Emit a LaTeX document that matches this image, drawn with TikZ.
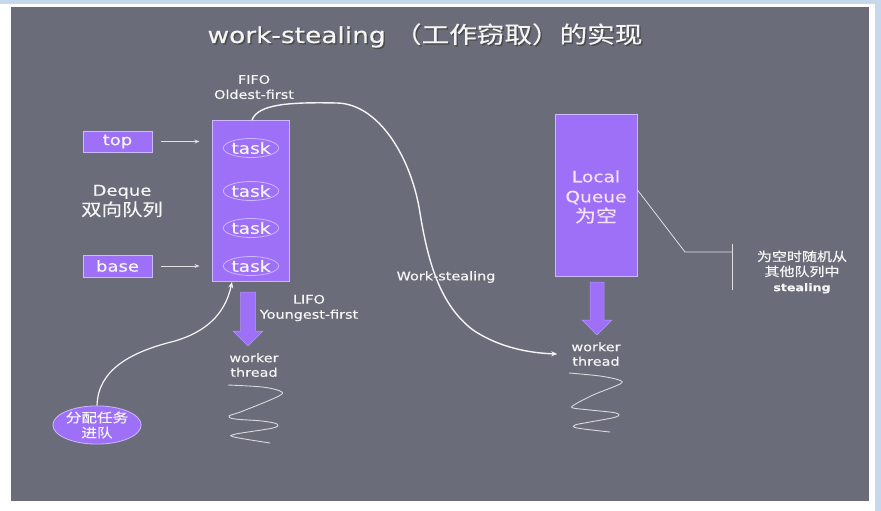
\documentclass[tikz,border=0pt]{standalone}
\usepackage{fontspec}
\setmainfont{DejaVu Sans}[FakeStretch=1.2,FakeBold=0.3]
\newfontfamily\cjk{Noto Sans CJK SC}[FakeStretch=1.2,FakeBold=0.3]
\usetikzlibrary{arrows.meta,calc,shapes.geometric}
\definecolor{slide}{RGB}{106,108,122}
\definecolor{purp}{RGB}{158,112,248}
\definecolor{lav}{RGB}{205,185,255}
\definecolor{txt}{RGB}{245,245,245}
\definecolor{pinkt}{RGB}{246,226,255}
\definecolor{band}{RGB}{200,216,236}
\begin{document}
\begin{tikzpicture}[x=1pt,y=-1pt,
  purpbox/.style={draw=lav, line width=1pt, fill=purp, text=txt, inner sep=0pt},
  taskell/.style={ellipse, draw=lav, line width=0.8pt, minimum width=48pt, minimum height=19pt, inner sep=0pt, text=txt, font=\fontsize{15.5}{15}\selectfont},
  lbl/.style={text=txt, align=center, inner sep=0pt},
  ptr/.style={draw=txt!85!slide, line width=0.8pt, -{Stealth[length=5pt,width=4pt]}},
  curvearrow/.style={draw=txt, line width=1.4pt, -{Stealth[length=6pt,width=5pt]}},
  spring/.style={draw=txt!80!slide, line width=0.9pt},
  bigarrow/.style={fill=purp, draw=lav!50!purp, line width=0.5pt},
  callout/.style={draw=txt!85!slide, line width=0.8pt}
]
\useasboundingbox (0,0) rectangle (881,511);
\fill[white] (0,0) rectangle (881,511);
\fill[band] (0,0) rectangle (881,4);
\fill[band] (875,0) rectangle (881,511);
\fill[slide] (11,7) rectangle (869,501);

% title
\node[anchor=base, text=black!70, inner sep=0pt] (titleshadow) at (426.5,44.5)
  {\fontsize{22}{24}\selectfont work-stealing\ {\cjk\fontsize{23}{24}\selectfont （工作窃取）的实现}};
\node[anchor=base, text=txt, inner sep=0pt] (title) at (425,43)
  {\fontsize{22}{24}\selectfont work-stealing\ {\cjk\fontsize{23}{24}\selectfont （工作窃取）的实现}};

% left: top / base pointers
\node[purpbox, minimum width=69pt, minimum height=21pt, font=\fontsize{15}{15}\selectfont] (top) at (117.5,141.5) {top};
\node[purpbox, minimum width=69pt, minimum height=22pt, font=\fontsize{15}{15}\selectfont] (base) at (117.5,266) {base};
\node[lbl, font=\fontsize{15}{20}\selectfont] (dq) at (122,201) {Deque\\{\cjk\fontsize{17}{20}\selectfont 双向队列}};

% deque
\node[purpbox, minimum width=77pt, minimum height=161pt] (deque) at (250.5,201) {};
\node[taskell] (t1) at (251,148) {task};
\node[taskell] (t2) at (251,191) {task};
\node[taskell] (t3) at (251,228) {task};
\node[taskell] (t4) at (251,266) {task};

\draw[ptr, shorten <=8pt, shorten >=12pt] (top.east) -- (top.east -| deque.west);
\draw[ptr, shorten <=8pt, shorten >=12pt] (base.east) -- (base.east -| deque.west);

\node[lbl, font=\fontsize{12}{15}\selectfont] (fifo) at (254,87) {FIFO\\Oldest-first};
\node[lbl, font=\fontsize{12}{15}\selectfont] (lifo) at (309,308) {LIFO\\Youngest-first};

% big arrow left
\filldraw[bigarrow] (240.5,292) -- (255.5,292) -- (255.5,331) -- (263,331) -- (248,346) -- (233,331) -- (240.5,331) -- cycle;
\node[lbl, font=\fontsize{12}{14.5}\selectfont] (wt1) at (254,365) {worker\\thread};

\draw[spring] plot[smooth, tension=0.55] coordinates {(228,385) (262,387) (280,391) (279,396) (243,411) (229,416) (235,419) (262,421) (277,424) (273,428) (236,434) (234,437) (270,443)};

% assign ellipse
\node[ellipse, draw=lav, line width=0.8pt, fill=purp, minimum width=83pt, minimum height=37pt, inner sep=0pt, text=txt, align=center, font=\cjk\fontsize{13}{15}\selectfont] (assign) at (97,425) {分配任务\\进队};
\draw[curvearrow, line width=1.2pt] (assign.north) .. controls (98,370) and (130,352) .. (175,341)
  .. controls (205,332) and (225,315) .. ($(deque.south)+(-18.5,0)$);

% right queue
\node[purpbox, minimum width=82pt, minimum height=162pt] (lq) at (596,195) {};
\node[lbl, text=pinkt, font=\fontsize{15.5}{20}\selectfont] (lqt) at (596,197) {Local\\Queue\\{\cjk\fontsize{17.5}{20}\selectfont 为空}};
\filldraw[bigarrow] (590,282) -- (604,282) -- (604,320) -- (612,320) -- (597,335) -- (582,320) -- (590,320) -- cycle;
\node[lbl, font=\fontsize{12}{14.5}\selectfont] (wt2) at (596,354) {worker\\thread};
\draw[spring] plot[smooth, tension=0.55] coordinates {(569,373) (600,376) (619,380) (620,384) (593,395) (574,405) (573,408) (590,410) (616,413) (616,417) (590,422) (575,425) (577,428) (610,432)};

% stealing curve
\draw[curvearrow] (252,120) .. controls (258,104) and (290,102) .. (337,103)
  .. controls (380,104) and (412,160) .. (420,213)
  .. controls (428,262) and (440,305) .. (473,330)
  .. controls (500,348) and (530,353) .. ($(wt2.west)+(-14,0)$);
\node[lbl, font=\fontsize{12}{14}\selectfont] (ws) at (446,277) {Work-stealing};

% callout
\coordinate (cbend) at (685,252);
\coordinate (cbar) at (732,252);
\draw[callout] ([yshift=5pt]lq.east) -- (cbend) -- (cbar);
\draw[callout] ($(cbar)+(0,-8)$) -- ($(cbar)+(0,38)$);
\node[lbl, font=\cjk\fontsize{12.5}{15}\selectfont] (cnote) at (802,272) {为空时随机从\\其他队列中\\{\rmfamily\bfseries\fontsize{10.5}{15}\selectfont stealing}};
\end{tikzpicture}
\end{document}
